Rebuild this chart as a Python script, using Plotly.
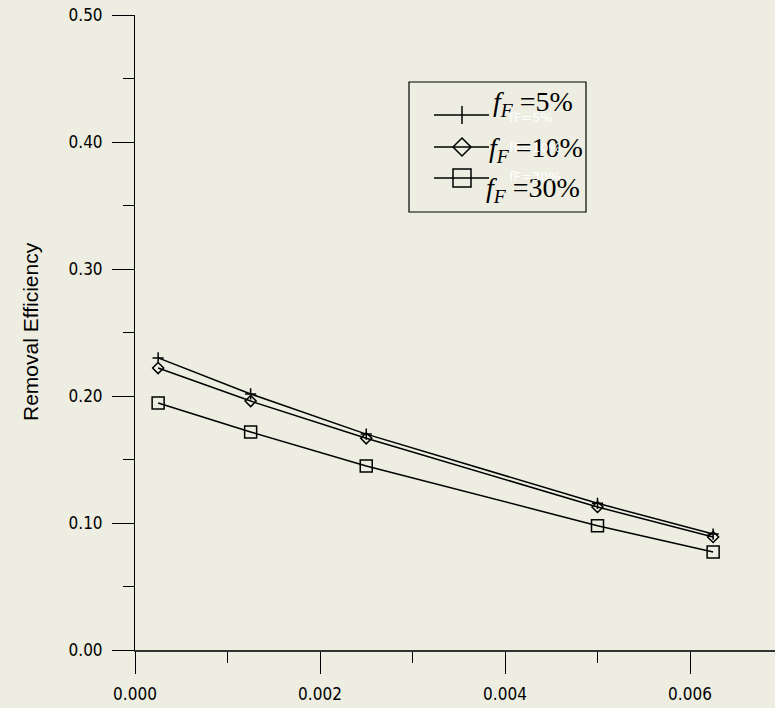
import plotly.graph_objects as go

# ---- data ----
x_vals = [0.00025, 0.00125, 0.0025, 0.005, 0.00625]
eff_5 = [0.230, 0.2016, 0.170, 0.1155, 0.0913]
eff_10 = [0.222, 0.196, 0.1667, 0.1126, 0.089]
eff_30 = [0.1945, 0.1717, 0.1449, 0.0979, 0.0772]
series_names = ["fF=5%", "fF=10%", "fF=30%"]
legend_labels = ["<i>f</i><sub><i>F</i></sub> =5%", "<i>f</i><sub><i>F</i></sub> =10%", "<i>f</i><sub><i>F</i></sub> =30%"]
x_ticks = [0.000, 0.002, 0.004, 0.006]
y_ticks = [0.00, 0.10, 0.20, 0.30, 0.40, 0.50]

W, H = 775, 708
L, R, T, B = 135, 0, 15, 58
BG = "rgb(237,237,225)"

def px(xp):
    return (xp - L) / (W - L - R)

def py(yp):
    return (H - B - yp) / (H - T - B)

fig = go.Figure()
styles = [("cross-thin-open", 8), ("diamond-open", 8.5), ("square-open", 12)]
for vals, name, (sym, sz) in zip([eff_5, eff_10, eff_30], series_names, styles):
    fig.add_trace(go.Scatter(
        x=x_vals, y=vals, mode="lines+markers", name=name, showlegend=False,
        line=dict(color="black", width=1.5),
        marker=dict(symbol=sym, size=sz, color="black", line=dict(color="black", width=1.5)),
    ))

shapes = []
# legend box
shapes.append(dict(type="rect", xref="paper", yref="paper",
                   x0=px(409), x1=px(586), y0=py(82), y1=py(212),
                   line=dict(color="black", width=1.2), fillcolor="rgba(0,0,0,0)"))
rows = [115, 147, 178]
cx = 462
for i, ry in enumerate(rows):
    shapes.append(dict(type="line", xref="paper", yref="paper",
                       x0=px(434), x1=px(489), y0=py(ry), y1=py(ry),
                       line=dict(color="black", width=1.5)))
    if i == 0:
        path = f"M{px(cx)},{py(ry-9)} L{px(cx)},{py(ry+9)}"
    elif i == 1:
        path = (f"M{px(cx-9)},{py(ry)} L{px(cx)},{py(ry-9)} L{px(cx+9)},{py(ry)} "
                f"L{px(cx)},{py(ry+9)} Z")
    else:
        path = (f"M{px(cx-9)},{py(ry-9)} L{px(cx+9)},{py(ry-9)} L{px(cx+9)},{py(ry+9)} "
                f"L{px(cx-9)},{py(ry+9)} Z")
    shapes.append(dict(type="path", xref="paper", yref="paper", path=path,
                       line=dict(color="black", width=1.5), fillcolor="rgba(0,0,0,0)"))

annotations = []
text_pos = [(491, 103), (487, 150), (484, 190)]
for lab, (tx, ty) in zip(legend_labels, text_pos):
    annotations.append(dict(xref="paper", yref="paper", x=px(tx), y=py(ty),
                            xanchor="left", yanchor="middle", showarrow=False,
                            text=lab, font=dict(family="Liberation Serif", size=28, color="black")))
ghost_pos = [(507, 118), (507, 147), (507, 177)]
for nm, (tx, ty) in zip(series_names, ghost_pos):
    annotations.append(dict(xref="paper", yref="paper", x=px(tx), y=py(ty),
                            xanchor="left", yanchor="middle", showarrow=False,
                            text=nm, font=dict(family="DejaVu Sans", size=13, color="white")))
annotations.append(dict(xref="paper", yref="paper", x=px(30), y=py(332),
                        xanchor="center", yanchor="middle", showarrow=False, textangle=-90,
                        text="Removal Efficiency",
                        font=dict(family="Liberation Sans", size=21, color="black")))

tickfont = dict(family="DejaVu Sans Condensed, DejaVu Sans", size=17, color="black")
fig.update_layout(
    width=W, height=H, margin=dict(l=L, r=R, t=T, b=B, pad=0),
    paper_bgcolor=BG, plot_bgcolor=BG,
    shapes=shapes, annotations=annotations,
    xaxis=dict(range=[0, 0.0069189], tickvals=x_ticks, ticktext=[f"{v:.3f}" for v in x_ticks],
               ticks="outside", ticklen=22, tickwidth=1, tickcolor="black",
               showline=True, linecolor="#333333", linewidth=2, showgrid=False, zeroline=False,
               minor=dict(ticks="outside", ticklen=11, tickwidth=1, tickcolor="black", dtick=0.001, tick0=0, showgrid=False),
               tickfont=tickfont, ticklabelstandoff=6),
    yaxis=dict(range=[0, 0.5], tickvals=y_ticks, ticktext=[f"{v:.2f}" for v in y_ticks],
               ticks="outside", ticklen=22, tickwidth=1, tickcolor="black",
               showline=True, linecolor="black", linewidth=1, showgrid=False, zeroline=False,
               minor=dict(ticks="outside", ticklen=11, tickwidth=1, tickcolor="black", dtick=0.05, tick0=0, showgrid=False),
               tickfont=tickfont, ticklabelstandoff=6),
)
fig.write_html("out.html")
